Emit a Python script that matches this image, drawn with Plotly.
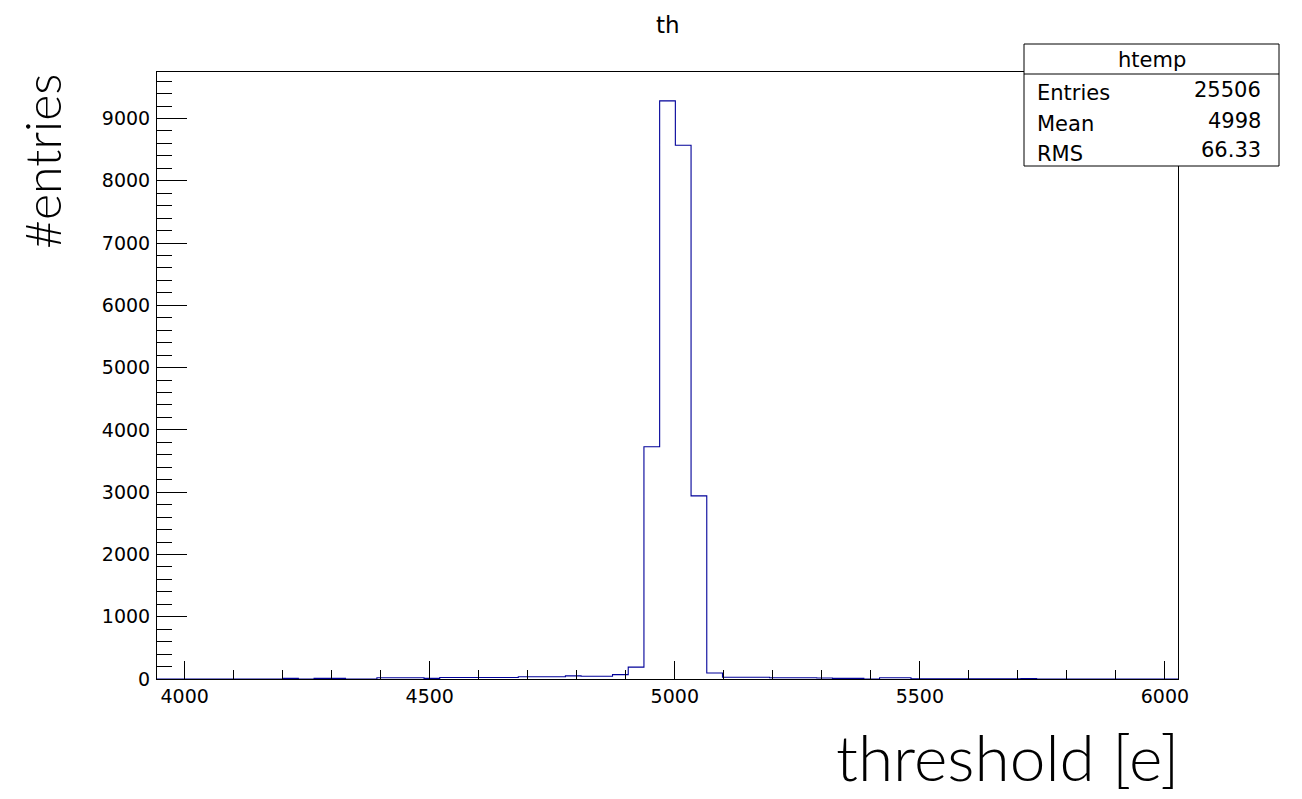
import numpy as np
import plotly.graph_objects as go

# ---------------- data ----------------
bin_low = 3943.5          # lower edge of first bin
bin_width = 32.05         # bin width
counts = [0, 0, 0, 0, 0, 0, 0, 0,
          10, 0, 10, 10, 0, 0,
          20, 20, 20, 10,
          25, 25, 25, 25, 25,
          35, 35, 35,
          50, 45, 45, 70, 190,
          3730, 9283, 8572, 2940, 96,
          27, 27, 27, 20, 20, 20, 15, 10, 10, 0, 20, 20,
          5, 5, 5, 5, 5, 5, 5, 8,
          0, 0, 0, 0, 0, 0, 0, 0, 0]
x_ticks = [4000, 4500, 5000, 5500, 6000]
y_ticks = [0, 1000, 2000, 3000, 4000, 5000, 6000, 7000, 8000, 9000]
stat_labels = ["Entries", "Mean", "RMS"]
stat_values = ["25506", "4998", "66.33"]
hist_name = "htemp"
title_text = "th"
x_title = "threshold [e]"
y_title = "#entries"

n_bins = len(counts)
edges = bin_low + bin_width * np.arange(n_bins + 1)
x_min, x_max = edges[0], edges[-1]
y_max = max(counts) * 1.05

# ---------------- layout geometry ----------------
OFF = 8                      # page body margin
WIN_W, WIN_H = 1302, 799
FL, FR, FT, FB = 157, 1178, 72, 679   # plot frame in window pixels
PW, PH = FR - FL, FB - FT
W, H = WIN_W - OFF, WIN_H - OFF
L, T = FL - OFF, FT - OFF
R, B = W - L - PW, H - T - PH


def px(xp):
    return (xp - FL) / PW


def py(yp):
    return (FB - yp) / PH


FONT = "DejaVu Sans"
TITLE_FONT = "Lato"
BLUE = "#000099"

fig = go.Figure()
fig.add_trace(go.Scatter(
    x=edges,
    y=list(counts) + [counts[-1]],
    mode="lines",
    line=dict(shape="hv", color=BLUE, width=1.1),
    hoverinfo="skip",
    showlegend=False,
))

fig.update_layout(
    width=W, height=H,
    margin=dict(l=L, r=R, t=T, b=B, pad=0),
    paper_bgcolor="white",
    plot_bgcolor="white",
    showlegend=False,
    font=dict(family=FONT, size=19, color="black"),
    xaxis=dict(
        range=[x_min, x_max],
        tickmode="array", tickvals=x_ticks,
        ticktext=[str(v) for v in x_ticks],
        ticks="inside", ticklen=18, tickwidth=1, tickcolor="black",
        minor=dict(dtick=100, tick0=4000, ticks="inside", ticklen=9,
                   tickwidth=1, tickcolor="black", showgrid=False),
        showline=True, linecolor="black", linewidth=1, mirror=True,
        showgrid=False, zeroline=False,
        tickfont=dict(family=FONT, size=19, color="black"),
    ),
    yaxis=dict(
        range=[0, y_max],
        tickmode="array", tickvals=y_ticks,
        ticktext=[str(v) for v in y_ticks],
        ticks="inside", ticklen=30, tickwidth=1, tickcolor="black",
        minor=dict(dtick=200, tick0=0, ticks="inside", ticklen=15,
                   tickwidth=1, tickcolor="black", showgrid=False),
        showline=True, linecolor="black", linewidth=1, mirror=True,
        showgrid=False, zeroline=False,
        ticklabelstandoff=2,
        tickfont=dict(family=FONT, size=19, color="black"),
    ),
)

annotations = []
# main title
annotations.append(dict(
    text=title_text, xref="paper", yref="paper",
    x=px(668), y=py(25), xanchor="center", yanchor="middle",
    showarrow=False, font=dict(family=FONT, size=23, color="black")))
# axis titles
annotations.append(dict(
    text=y_title, xref="paper", yref="paper",
    x=px(42), y=py(161), xanchor="center", yanchor="middle",
    textangle=-90, showarrow=False,
    font=dict(family=TITLE_FONT, size=50, color="black", weight=300)))
annotations.append(dict(
    text=x_title, xref="paper", yref="paper",
    x=px(1181), y=py(756), xanchor="right", yanchor="middle",
    showarrow=False,
    font=dict(family=TITLE_FONT, size=64, color="black", weight=300)))

# stats box
bx0, bx1, by0, by1, bdiv = 1024, 1279, 44, 166, 74
shapes = [
    dict(type="rect", xref="paper", yref="paper",
         x0=px(bx0), x1=px(bx1), y0=py(by1), y1=py(by0),
         line=dict(color="black", width=1), fillcolor="white", layer="above"),
    dict(type="line", xref="paper", yref="paper",
         x0=px(bx0), x1=px(bx1), y0=py(bdiv), y1=py(bdiv),
         line=dict(color="black", width=1), layer="above"),
]
annotations.append(dict(
    text=hist_name, xref="paper", yref="paper",
    x=px((bx0 + bx1) / 2), y=py(60), xanchor="center", yanchor="middle",
    showarrow=False, font=dict(family=FONT, size=21, color="black")))
row_y_lab = [93, 124, 154]
row_y_val = [90, 121, 150]
for lab, val, yl, yv in zip(stat_labels, stat_values, row_y_lab, row_y_val):
    annotations.append(dict(
        text=lab, xref="paper", yref="paper",
        x=px(1035), y=py(yl), xanchor="left", yanchor="middle",
        showarrow=False, font=dict(family=FONT, size=21, color="black")))
    annotations.append(dict(
        text=val, xref="paper", yref="paper",
        x=px(1263), y=py(yv), xanchor="right", yanchor="middle",
        showarrow=False, font=dict(family=FONT, size=21, color="black")))

fig.update_layout(annotations=annotations, shapes=shapes)
fig.write_html("out.html")
